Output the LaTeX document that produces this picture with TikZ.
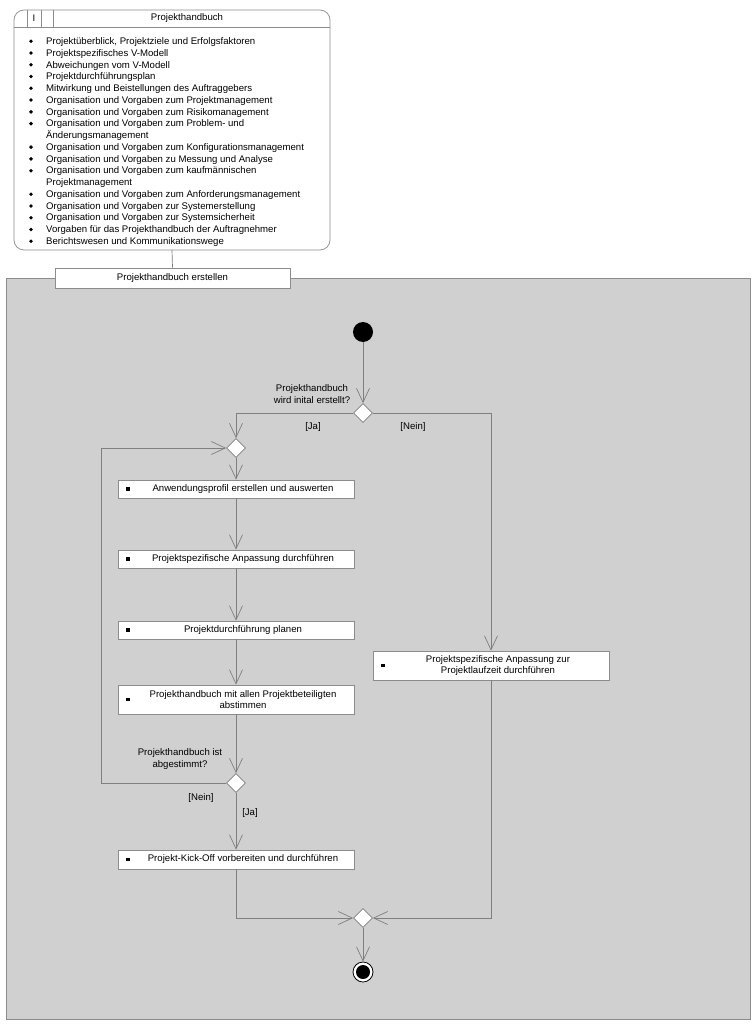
\documentclass[tikz,border=0pt]{standalone}
\usepackage{fontspec}
\setmainfont{Liberation Sans}
\usetikzlibrary{shapes.geometric,arrows.meta}
\definecolor{framefill}{HTML}{D0D0D0}
\definecolor{lncol}{HTML}{7F7F7F}
\definecolor{bdcol}{HTML}{8C8C8C}
\newcommand\LI[2]{\node[lt] (t#1) at (46,{44.5+11.76*(#1-1)}) {#2};\node[bt] (b#1) at (31,{41.3+11.76*(#1-1)}) {};}
\newcommand\LC[2]{\node[lt] (t#1) at (46,{44.5+11.76*(#1-1)}) {#2};}
\begin{document}
\begin{tikzpicture}[x=1pt,y=-1pt,
  font=\fontsize{9.6}{11.76}\selectfont,
  lnk/.style={draw=lncol, line width=0.7pt},
  arr/.style={lnk, -{Straight Barb[length=14pt,width=13pt,line width=0.7pt]}},
  act/.style={draw=bdcol, fill=white, line width=0.7pt, minimum width=236pt, inner sep=0pt,
    path picture={\fill[black] ([xshift=10pt]path picture bounding box.west) +(-1.8,-1.8) rectangle +(1.8,1.8);}},
  acttext/.style={align=center, inner sep=0pt},
  dec/.style={diamond, draw=lncol, fill=white, inner sep=0pt, minimum width=19pt, minimum height=19pt, line width=0.7pt},
  lbl/.style={align=center, inner sep=0pt},
  lt/.style={anchor=base west, inner sep=0pt},
  bt/.style={circle, fill=black, inner sep=0pt, minimum size=3.8pt}]
\useasboundingbox (0,0) rectangle (755,1024);
\fill[white] (0,0) rectangle (755,1024);

% gray frame
\draw[bdcol, fill=framefill, line width=0.7pt] (6,278) rectangle (750,1019);

% top artefact box
\draw[bdcol, line width=0.7pt, fill=white, rounded corners=10pt] (14,10) rectangle (330,250);
\draw[bdcol, line width=0.7pt] (14,27) -- (330,27);
\draw[bdcol, line width=0.7pt] (27,10) -- (27,27) (41,10) -- (41,27) (53,10) -- (53,27);
\node[inner sep=0pt] (hI) at (34,18.5) {I};
\node[inner sep=0pt] (htitle) at (187,18.5) {Projekthandbuch};
\coordinate (boxbot) at (172,250);

\LI{1}{Projektüberblick, Projektziele und Erfolgsfaktoren}
\LI{2}{Projektspezifisches V-Modell}
\LI{3}{Abweichungen vom V-Modell}
\LI{4}{Projektdurchführungsplan}
\LI{5}{Mitwirkung und Beistellungen des Auftraggebers}
\LI{6}{Organisation und Vorgaben zum Projektmanagement}
\LI{7}{Organisation und Vorgaben zum Risikomanagement}
\LI{8}{Organisation und Vorgaben zum Problem- und}
\LC{9}{Änderungsmanagement}
\LI{10}{Organisation und Vorgaben zum Konfigurationsmanagement}
\LI{11}{Organisation und Vorgaben zu Messung und Analyse}
\LI{12}{Organisation und Vorgaben zum kaufmännischen}
\LC{13}{Projektmanagement}
\LI{14}{Organisation und Vorgaben zum Anforderungsmanagement}
\LI{15}{Organisation und Vorgaben zur Systemerstellung}
\LI{16}{Organisation und Vorgaben zur Systemsicherheit}
\LI{17}{Vorgaben für das Projekthandbuch der Auftragnehmer}
\LI{18}{Berichtswesen und Kommunikationswege}

% tab
\node[draw=bdcol, fill=white, line width=0.7pt, minimum width=235pt, minimum height=20pt, inner sep=0pt] (tab) at (172.5,278) {Projekthandbuch erstellen};
\draw[lnk] (boxbot) -- (tab.north);

% start / end
\node[circle, fill=black, minimum size=20pt, inner sep=0pt] (start) at (363,332) {};
\node[circle, draw=black, fill=white, line width=0.8pt, minimum size=20pt, inner sep=0pt] (end) at (363,972) {};
\node[circle, fill=black, minimum size=14pt, inner sep=0pt] (endin) at (363,972) {};

% decisions
\node[dec] (d1) at (363,413) {};
\node[dec] (d2) at (236,448) {};
\node[dec] (d3) at (236,783) {};
\node[dec] (d4) at (363,918) {};

% actions
\node[act, minimum height=18pt] (bA) at (236,489) {};
\node[acttext] (tA) at (243,489) {Anwendungsprofil erstellen und auswerten};
\node[act, minimum height=18pt] (bB) at (236,559) {};
\node[acttext] (tB) at (243,559) {Projektspezifische Anpassung durchführen};
\node[act, minimum height=18pt] (bC) at (236,630) {};
\node[acttext] (tC) at (243,630) {Projektdurchführung planen};
\node[act, minimum height=29pt] (bD) at (236,699.5) {};
\node[acttext] (tD) at (243,699.5) {Projekthandbuch mit allen Projektbeteiligten\\abstimmen};
\node[act, minimum height=19pt] (bE) at (236,859.5) {};
\node[acttext] (tE) at (243,859.5) {Projekt-Kick-Off vorbereiten und durchführen};
\node[act, minimum height=29pt] (bR) at (491,665.5) {};
\node[acttext] (tR) at (498,665.5) {Projektspezifische Anpassung zur\\Projektlaufzeit durchführen};

% labels
\node[lbl] (q1) at (312,394) {Projekthandbuch\\wird inital erstellt?};
\node[lbl] (ja1) at (313,427) {[Ja]};
\node[lbl] (nein1) at (413,427) {[Nein]};
\node[lbl] (q2) at (180,759) {Projekthandbuch ist\\abgestimmt?};
\node[lbl] (nein2) at (201,798) {[Nein]};
\node[lbl] (ja2) at (250,813) {[Ja]};

% connectors
\draw[arr] (start) -- (d1.north);
\draw[arr] (d1.west) -| (d2.north);
\draw[arr] (d1.east) -| (bR.north);
\draw[arr] (d2.south) -- (bA.north);
\draw[arr] (bA.south) -- (bB.north);
\draw[arr] (bB.south) -- (bC.north);
\draw[arr] (bC.south) -- (bD.north);
\draw[arr] (bD.south) -- (d3.north);
\draw[arr] (d3.south) -- (bE.north);
\draw[arr] (d3.west) -- (101,783) -- (101,448) -- (d2.west);
\draw[arr] (bE.south) |- (d4.west);
\draw[arr] (bR.south) |- (d4.east);
\draw[arr] (d4.south) -- (end.north);
\end{tikzpicture}
\end{document}
